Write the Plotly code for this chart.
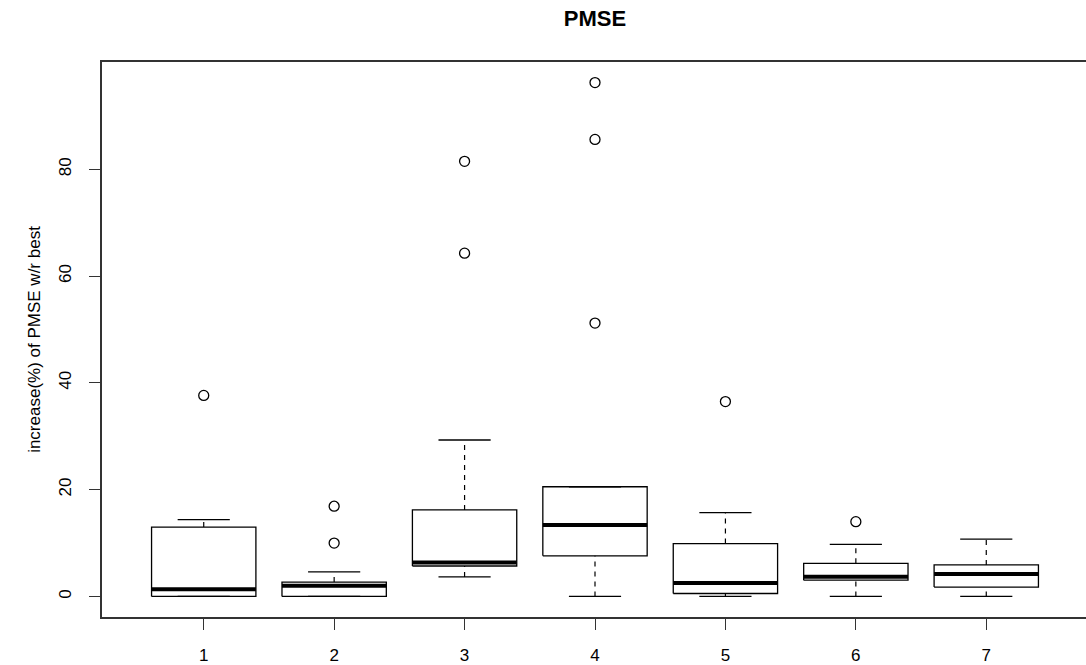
import plotly.graph_objects as go

# ---- data ----
groups = ["1", "2", "3", "4", "5", "6", "7"]
positions = [1, 2, 3, 4, 5, 6, 7]
lower_whisker = [0.0, 0.0, 3.66, 0.0, 0.0, 0.0, 0.0]
q1 = [0.0, 0.0, 5.7, 7.6, 0.55, 3.05, 1.75]
median = [1.36, 2.0, 6.35, 13.4, 2.5, 3.7, 4.2]
q3 = [13.0, 2.7, 16.2, 20.55, 9.9, 6.2, 5.9]
upper_whisker = [14.4, 4.6, 29.3, 20.55, 15.7, 9.75, 10.75]
outlier_group = [1, 2, 2, 3, 3, 4, 4, 4, 5, 6]
outlier_value = [37.65, 10.0, 16.9, 64.3, 81.5, 51.2, 85.6, 96.25, 36.5, 14.0]
y_ticks = [0, 20, 40, 60, 80]

title_text = "PMSE"
y_title = "increase(%) of PMSE w/r best"

BOX_HALF = 0.4
CAP_HALF = 0.2

fig = go.Figure()

# box bodies
for p, a, b in zip(positions, q1, q3):
    fig.add_trace(go.Scatter(
        x=[p - BOX_HALF, p + BOX_HALF, p + BOX_HALF, p - BOX_HALF, p - BOX_HALF],
        y=[a, a, b, b, a], mode="lines", fill="toself", fillcolor="white",
        line=dict(color="black", width=1.3), hoverinfo="skip", showlegend=False))

# dashed whiskers
wx, wy = [], []
for p, lo, a, b, hi in zip(positions, lower_whisker, q1, q3, upper_whisker):
    wx += [p, p, None, p, p, None]
    wy += [b, hi, None, lo, a, None]
fig.add_trace(go.Scatter(x=wx, y=wy, mode="lines",
                         line=dict(color="black", width=1.2, dash="5px,5px"),
                         hoverinfo="skip", showlegend=False))

# staples
cx, cy = [], []
for p, lo, hi in zip(positions, lower_whisker, upper_whisker):
    cx += [p - CAP_HALF, p + CAP_HALF, None, p - CAP_HALF, p + CAP_HALF, None]
    cy += [hi, hi, None, lo, lo, None]
fig.add_trace(go.Scatter(x=cx, y=cy, mode="lines",
                         line=dict(color="black", width=1.3),
                         hoverinfo="skip", showlegend=False))

# medians
mx, my = [], []
for p, m in zip(positions, median):
    mx += [p - BOX_HALF, p + BOX_HALF, None]
    my += [m, m, None]
fig.add_trace(go.Scatter(x=mx, y=my, mode="lines",
                         line=dict(color="black", width=4),
                         hoverinfo="skip", showlegend=False))

# outliers
fig.add_trace(go.Scatter(x=outlier_group, y=outlier_value, mode="markers",
                         marker=dict(symbol="circle-open", size=10,
                                     color="black", line=dict(width=1.3)),
                         showlegend=False))

font_family = "Liberation Sans, Arial, sans-serif"

fig.update_layout(
    width=1088, height=665,
    margin=dict(l=102, r=0, t=62, b=45),
    paper_bgcolor="white", plot_bgcolor="white",
    font=dict(family=font_family, size=17, color="black"),
    title=dict(text="<b>" + title_text + "</b>", x=0.5,
               xref="paper", xanchor="center", y=1 - 18 / 665, yanchor="middle",
               font=dict(size=22, family=font_family, color="black")),
)

fig.update_xaxes(
    range=[0.22, 7.78], tickmode="array", tickvals=positions, ticktext=groups,
    ticks="outside", ticklen=11, tickwidth=1.2, tickcolor="#333",
    showline=True, linecolor="#333", linewidth=1.5, mirror=True,
    showgrid=False, zeroline=False, ticklabelstandoff=11,
    tickfont=dict(size=17),
)
fig.update_yaxes(
    range=[-3.85, 100.1], tickmode="array", tickvals=y_ticks,
    ticktext=[str(v) for v in y_ticks], tickangle=-90,
    ticks="outside", ticklen=11, tickwidth=1.2, tickcolor="#333",
    showline=True, linecolor="#333", linewidth=1.5, mirror=False,
    showgrid=False, zeroline=False, ticklabelstandoff=11,
    tickfont=dict(size=17),
    title=dict(text=y_title, font=dict(size=17), standoff=12),
)

fig.write_html(
    "out.html",
    config={"displayModeBar": False},
    post_script="document.body.style.margin='0';"
                "document.body.style.overflow='hidden';",
)
